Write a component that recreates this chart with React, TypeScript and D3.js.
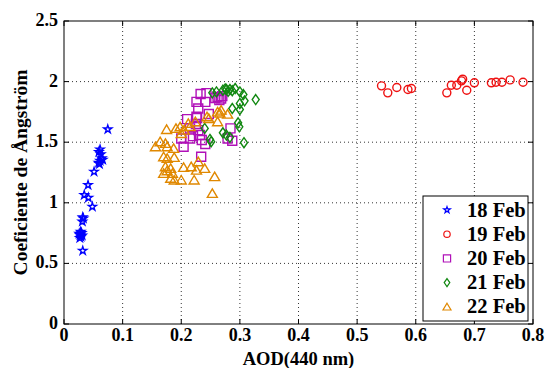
import React from 'react';
import * as d3 from 'd3';

// AOD(440 nm) vs Angstrom coefficient, one pair of arrays per day
const feb18Aod = [0.0747, 0.0615, 0.0595, 0.0627, 0.0644, 0.066, 0.0615, 0.059, 0.0605, 0.0513, 0.041, 0.0345, 0.0416, 0.0484, 0.032, 0.033, 0.0313, 0.0285, 0.03, 0.0274, 0.029, 0.026, 0.027, 0.031, 0.032];
const feb18Alpha = [1.606, 1.44, 1.42, 1.4, 1.367, 1.355, 1.347, 1.33, 1.32, 1.257, 1.147, 1.064, 1.042, 0.968, 0.88, 0.87, 0.845, 0.762, 0.75, 0.734, 0.72, 0.745, 0.71, 0.73, 0.605];

const feb19Aod = [0.5416, 0.5523, 0.5677, 0.5867, 0.5926, 0.653, 0.6607, 0.67, 0.678, 0.68, 0.687, 0.7, 0.729, 0.737, 0.747, 0.761, 0.783];
const feb19Alpha = [1.965, 1.907, 1.951, 1.935, 1.943, 1.907, 1.97, 1.97, 2.006, 2.02, 1.929, 1.99, 1.99, 1.995, 1.995, 2.014, 1.995];

const feb20Aod = [0.233, 0.243, 0.241, 0.226, 0.229, 0.247, 0.226, 0.21, 0.227, 0.215, 0.229, 0.232, 0.215, 0.2, 0.235, 0.241, 0.204, 0.234, 0.262, 0.265, 0.258, 0.268, 0.27, 0.284, 0.287, 0.279, 0.22, 0.225];
const feb20Alpha = [1.898, 1.905, 1.833, 1.833, 1.778, 1.733, 1.71, 1.69, 1.7, 1.614, 1.6, 1.559, 1.531, 1.531, 1.518, 1.485, 1.463, 1.38, 1.874, 1.847, 1.865, 1.86, 1.88, 1.614, 1.512, 1.531, 1.55, 1.65];

const feb21Aod = [0.253, 0.26, 0.271, 0.275, 0.277, 0.28, 0.283, 0.287, 0.292, 0.3, 0.306, 0.327, 0.308, 0.3, 0.287, 0.3, 0.297, 0.299, 0.24, 0.271, 0.277, 0.283, 0.249, 0.251, 0.307];
const feb21Alpha = [1.907, 1.915, 1.929, 1.94, 1.935, 1.92, 1.935, 1.925, 1.943, 1.915, 1.893, 1.852, 1.841, 1.82, 1.778, 1.77, 1.66, 1.627, 1.614, 1.578, 1.559, 1.54, 1.523, 1.504, 1.496];

const feb22Aod = [0.175, 0.191, 0.2, 0.198, 0.212, 0.224, 0.247, 0.244, 0.262, 0.268, 0.266, 0.279, 0.262, 0.156, 0.164, 0.173, 0.176, 0.187, 0.17, 0.176, 0.188, 0.173, 0.182, 0.176, 0.185, 0.17, 0.182, 0.188, 0.2, 0.204, 0.217, 0.229, 0.226, 0.24, 0.222, 0.257, 0.253, 0.205, 0.215];
const feb22Alpha = [1.605, 1.614, 1.572, 1.627, 1.655, 1.669, 1.696, 1.71, 1.75, 1.765, 1.74, 1.732, 1.669, 1.463, 1.504, 1.49, 1.463, 1.449, 1.38, 1.367, 1.375, 1.298, 1.284, 1.265, 1.243, 1.243, 1.202, 1.188, 1.188, 1.292, 1.298, 1.339, 1.27, 1.284, 1.188, 1.216, 1.078, 1.6, 1.63];

const dayLabels = ['18 Feb', '19 Feb', '20 Feb', '21 Feb', '22 Feb'];
const xTicks = [0, 0.1, 0.2, 0.3, 0.4, 0.5, 0.6, 0.7, 0.8];
const yTicks = [0, 0.5, 1, 1.5, 2, 2.5];

const colors = ['#0000ff', '#ee1111', '#b010b8', '#118811', '#e08800'];

const star = d3.symbol().type(d3.symbolStar).size(20)()!;
const shapes = [
  star,
  'M4,0A4,4 0 1,1 -4,0A4,4 0 1,1 4,0Z',
  'M-4.5,-4.5H4.5V4.5H-4.5Z',
  'M0,-5L3.5,0L0,5L-3.5,0Z',
  'M0,-4.5L5,4L-5,4Z',
];

const FONT = '"Liberation Serif", "Times New Roman", serif';

export default function App() {
  const W = 545, H = 368;
  const m = { left: 64, right: 12, top: 21, bottom: 44 };

  const x = d3.scaleLinear().domain([0, 0.8]).range([m.left, W - m.right]);
  const y = d3.scaleLinear().domain([0, 2.5]).range([H - m.bottom, m.top]);

  const series = [
    { aod: feb18Aod, alpha: feb18Alpha },
    { aod: feb19Aod, alpha: feb19Alpha },
    { aod: feb20Aod, alpha: feb20Alpha },
    { aod: feb21Aod, alpha: feb21Alpha },
    { aod: feb22Aod, alpha: feb22Alpha },
  ];

  const x0 = x(0), x1 = x(0.8), y0 = y(0), y1 = y(2.5);
  const tick = 5;

  // legend box
  const lg = { x: 423, y: 196, w: 105, h: 125 };

  return (
    <svg width={W} height={H} style={{ position: 'absolute', left: 0, top: 0, background: '#fff' }}
      fontFamily={FONT} fontWeight="bold">
      {/* dotted grid */}
      {xTicks.slice(1, -1).map(t => (
        <line key={'gx' + t} x1={x(t)} x2={x(t)} y1={y0} y2={y1} stroke="#000" strokeWidth={0.8} strokeDasharray="1,3" />
      ))}
      {yTicks.slice(1, -1).map(t => (
        <line key={'gy' + t} x1={x0} x2={x1} y1={y(t)} y2={y(t)} stroke="#000" strokeWidth={0.8} strokeDasharray="1,3" />
      ))}

      {/* ticks, both sides */}
      {xTicks.map(t => (
        <g key={'tx' + t}>
          <line x1={x(t)} x2={x(t)} y1={y0} y2={y0 - tick} stroke="#000" />
          <line x1={x(t)} x2={x(t)} y1={y1} y2={y1 + tick} stroke="#000" />
          <text x={x(t)} y={y0 + 17} textAnchor="middle" fontSize={18}>{t}</text>
        </g>
      ))}
      {yTicks.map(t => (
        <g key={'ty' + t}>
          <line x1={x0} x2={x0 + tick} y1={y(t)} y2={y(t)} stroke="#000" />
          <line x1={x1} x2={x1 - tick} y1={y(t)} y2={y(t)} stroke="#000" />
          <text x={x0 - 6} y={y(t) + 5} textAnchor="end" fontSize={18}>{t}</text>
        </g>
      ))}

      {/* markers */}
      {series.map((s, i) => (
        <g key={'s' + i} fill="none" stroke={colors[i]} strokeWidth={1.4}>
          {s.aod.map((a, j) => (
            <path key={j} d={shapes[i]} transform={`translate(${x(a)},${y(s.alpha[j])})`} />
          ))}
        </g>
      ))}

      {/* axes box */}
      <rect x={x0} y={y1} width={x1 - x0} height={y0 - y1} fill="none" stroke="#000" strokeWidth={1} />

      {/* legend */}
      <rect x={lg.x} y={lg.y} width={lg.w} height={lg.h} fill="#fff" stroke="#000" strokeWidth={1} />
      {dayLabels.map((d, i) => {
        const cy = lg.y + 14 + i * 24.2;
        return (
          <g key={d}>
            <path d={shapes[i]} transform={`translate(${lg.x + 24},${cy}) scale(0.8)`} fill="none" stroke={colors[i]} strokeWidth={1.5} />
            <text x={lg.x + 44} y={cy + 6.5} fontSize={20.5}>{d}</text>
          </g>
        );
      })}

      {/* axis titles */}
      <text x={(x0 + x1) / 2} y={H - 3} textAnchor="middle" fontSize={18.5}>AOD(440 nm)</text>
      <text transform={`translate(27,${(y0 + y1) / 2}) rotate(-90)`} textAnchor="middle" fontSize={19.5}>Coeficiente de Ångström</text>
    </svg>
  );
}
